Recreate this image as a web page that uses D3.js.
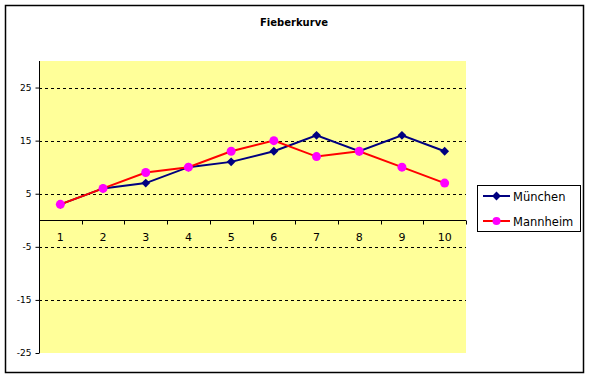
<!DOCTYPE html>
<html><head><meta charset="utf-8">
<script src="https://cdn.jsdelivr.net/npm/d3@7"></script>
<style>body{margin:0;background:#fff}svg{display:block}</style>
</head><body>
<script>
const categories = ["1","2","3","4","5","6","7","8","9","10"];
const muenchen = [3,6,7,10,11,13,16,13,16,13];
const mannheim = [3,6,9,10,13,15,12,13,10,7];
const yTicks = [-25,-15,-5,5,15,25];
const seriesNames = ["München","Mannheim"];

const W=589,H=378;
const svg=d3.select("body").append("svg").attr("width",W).attr("height",H);
svg.append("rect").attr("x",5.5).attr("y",5.5).attr("width",578).attr("height",367)
  .attr("fill","#fff").attr("stroke","#000").attr("stroke-width",1.5);
svg.append("text").attr("x",294).attr("y",25.5).attr("text-anchor","middle")
  .attr("font-family","DejaVu Sans").attr("font-weight","bold").attr("font-size",10)
  .text("Fieberkurve");

const L=39,R=466,T=61,B=353;
const x=d3.scaleBand().domain(categories).range([L,R]);
const y=d3.scaleLinear().domain([-25,30]).range([B,T]);
svg.append("rect").attr("x",L).attr("y",T).attr("width",R-L).attr("height",B-T).attr("fill","#FFFF99");
// gridlines
svg.append("g").selectAll("line").data(yTicks.filter(v=>v>-25)).join("line")
  .attr("x1",L).attr("x2",R).attr("y1",d=>Math.round(y(d))+0.5).attr("y2",d=>Math.round(y(d))+0.5)
  .attr("stroke","#000").attr("stroke-dasharray","3,3").attr("stroke-width",1);
// y axis
const ya=svg.append("g").attr("transform",`translate(${L+0.5},0)`)
  .call(d3.axisLeft(y).tickValues(yTicks).tickSize(4).tickPadding(4).tickFormat(d=>String(d)));
ya.select(".domain").attr("d",`M0,${T}V${B}`);
ya.selectAll("text").attr("font-family","DejaVu Sans").attr("font-size",9).attr("fill","#000");
// x axis at 0
const x0=Math.round(y(0))+0.5;
svg.append("line").attr("x1",L).attr("x2",R).attr("y1",x0).attr("y2",x0).attr("stroke","#000");
svg.append("g").selectAll("line").data(categories.slice(1).concat(["end"])).join("line")
  .attr("x1",(d,i)=>Math.round(i<9?x(d):R)+0.5).attr("x2",(d,i)=>Math.round(i<9?x(d):R)+0.5)
  .attr("y1",x0).attr("y2",x0+4).attr("stroke","#000");
svg.append("g").selectAll("text").data(categories).join("text")
  .attr("x",d=>x(d)+x.bandwidth()/2).attr("y",x0+20).attr("text-anchor","middle")
  .attr("font-family","DejaVu Sans").attr("font-size",11).text(d=>d);

const cx=(d,i)=>x(categories[i])+x.bandwidth()/2;
const line=d3.line().x((d,i)=>cx(d,i)).y(d=>y(d));
svg.append("path").datum(muenchen).attr("d",line).attr("fill","none").attr("stroke","#000080").attr("stroke-width",2);
svg.append("path").datum(mannheim).attr("d",line).attr("fill","none").attr("stroke","#FF0000").attr("stroke-width",2);
const diamond=d3.symbol().type(d3.symbolDiamond2).size(50);
svg.append("g").selectAll("path").data(muenchen).join("path")
  .attr("transform",(d,i)=>`translate(${cx(d,i)},${y(d)})`).attr("d",diamond).attr("fill","#000080");
svg.append("g").selectAll("circle").data(mannheim).join("circle")
  .attr("cx",(d,i)=>cx(d,i)).attr("cy",d=>y(d)).attr("r",4.5).attr("fill","#FF00FF");

// legend
const lg=svg.append("g");
lg.append("rect").attr("x",477.5).attr("y",185.5).attr("width",103).attr("height",46)
  .attr("fill","#fff").attr("stroke","#000");
const ly=[196,221];
const cols=["#000080","#FF0000"];
seriesNames.forEach((n,i)=>{
  lg.append("line").attr("x1",483).attr("x2",510).attr("y1",ly[i]).attr("y2",ly[i]).attr("stroke",cols[i]).attr("stroke-width",2);
  if(i===0) lg.append("path").attr("transform",`translate(496.5,${ly[i]})`).attr("d",diamond).attr("fill","#000080");
  else lg.append("circle").attr("cx",496.5).attr("cy",ly[i]).attr("r",4).attr("fill","#FF00FF");
  lg.append("text").attr("x",513).attr("y",ly[i]+4.5).attr("font-family","DejaVu Sans").attr("font-size",11.5).text(n);
});
</script>
</body></html>
